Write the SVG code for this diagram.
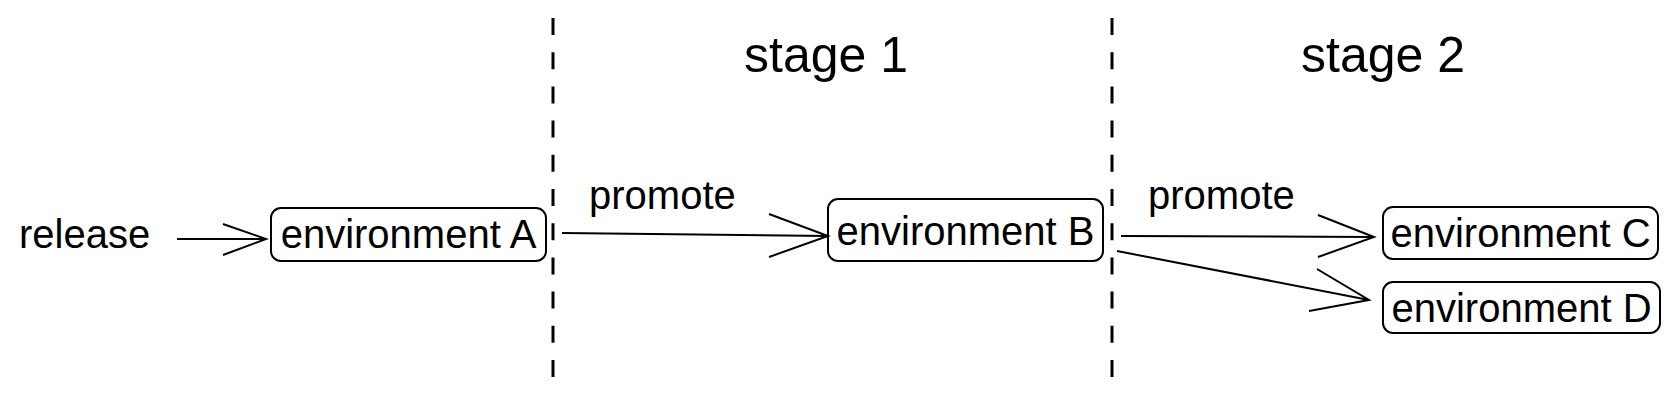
<svg xmlns="http://www.w3.org/2000/svg" width="1679" height="407" viewBox="0 0 1679 407">
<style>
.box{fill:#fff;stroke:#000;stroke-width:2}
.t{font-family:"Liberation Sans",Arial,Helvetica,sans-serif;font-size:40px;fill:#000}
.h{font-family:"Liberation Sans",Arial,Helvetica,sans-serif;font-size:50px;fill:#000}
.c{fill:none;stroke:#000;stroke-width:2}
.d{fill:none;stroke:#000;stroke-width:3;stroke-dasharray:17 17.2}
</style>
<rect width="1679" height="407" fill="#fff"/>
<g id="dividers">
<line class="d" x1="553" y1="18" x2="553" y2="377"/>
<line class="d" x1="1112" y1="18" x2="1112" y2="377"/>
</g>
<g id="stage1"><text class="h" x="826" y="72" text-anchor="middle">stage 1</text></g>
<g id="stage2"><text class="h" x="1383" y="72" text-anchor="middle">stage 2</text></g>
<g id="release"><text class="t" x="19" y="248">release</text></g>
<g id="envA"><rect class="box" x="271" y="208" width="275" height="53" rx="10"/><text class="t" x="408.5" y="248" text-anchor="middle">environment A</text></g>
<g id="envB"><rect class="box" x="828" y="199" width="275" height="62" rx="10"/><text class="t" x="965.5" y="245" text-anchor="middle">environment B</text></g>
<g id="envC"><rect class="box" x="1383" y="207" width="275" height="52" rx="10"/><text class="t" x="1520.5" y="247" text-anchor="middle">environment C</text></g>
<g id="envD"><rect class="box" x="1383" y="282" width="277" height="51" rx="10"/><text class="t" x="1521.5" y="322" text-anchor="middle">environment D</text></g>
<g id="connectors">
<path class="c" d="M177 239 L266 239 M223 224 L266 239 L223 255"/>
<path class="c" d="M562 233 L828 236 M769 214 L828 236 L769 257"/>
<text class="t" x="589" y="209">promote</text>
<path class="c" d="M1121 236 L1374 237 M1318 215 L1374 237 L1318 257"/>
<text class="t" x="1148" y="209">promote</text>
<path class="c" d="M1117 251 L1369 300 M1317 269 L1369 300 L1309 311"/>
</g>
</svg>
